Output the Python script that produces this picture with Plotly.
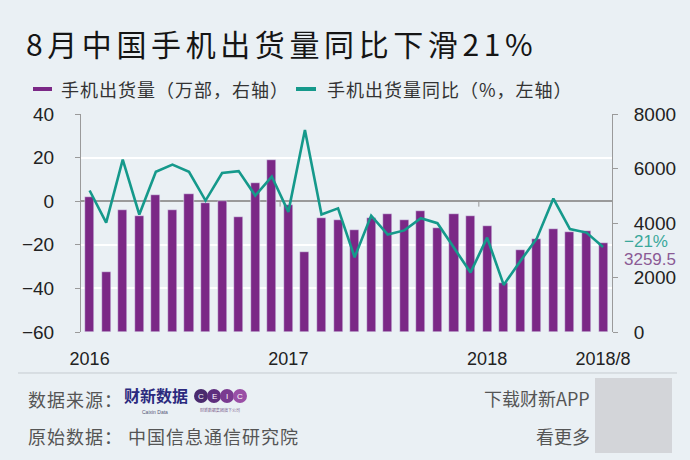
import plotly.graph_objects as go

# ---- data ----
months = list(range(32))  # Jan 2016 .. Aug 2018
tick_pos = [0, 12, 24, 31]
tick_text = ["2016", "2017", "2018", "2018/8"]
shipments = [4943, 2213, 4466, 4268, 5016, 4466, 5064, 4745, 4807, 4231, 5468, 6312,
             4649, 2936, 4183, 4098, 3743, 4183, 4318, 4110, 4428, 3829, 4318, 4269,
             3902, 1810, 3021, 3425, 3792, 3670, 3706, 3259.5]
yoy = [4.9, -9.8, 19.1, -6.1, 13.5, 16.8, 13.5, 0.3, 12.9, 13.8, 2.6, 11.3,
       -4.9, 32.7, -6.1, -3.3, -25.7, -6.6, -15.3, -13.4, -7.8, -10.1, -21.4, -32.7,
       -16.7, -38.4, -27.5, -17.1, 1.2, -12.8, -14.4, -21.0]

BG = "#EAF0F4"
PURPLE = "#7B2886"
TEAL = "#15998B"
W, H = 690, 460
L, R, T, B = 81, 78, 114, 128
PW, PH = W - L - R, H - T - B

def px(x):
    return (x - L) / PW

def py(y):
    return (H - B - y) / PH

CJK = "Noto Sans CJK SC, sans-serif"
NUM = "Liberation Sans, Arial, sans-serif"

def spaced(s, n):
    return '<span style="letter-spacing:%spx">%s</span>' % (n, s)

fig = go.Figure()
fig.add_trace(go.Bar(x=months, y=shipments, marker_color=PURPLE, width=0.55,
                     yaxis="y", name="手机出货量（万部，右轴）", showlegend=False))
fig.add_trace(go.Scatter(x=months, y=yoy, mode="lines", line=dict(color=TEAL, width=2.6),
                         yaxis="y2", name="手机出货量同比（%，左轴）", showlegend=False))

ann = []
shapes = []
# title
ann.append(dict(text=spaced("8月中国手机出货量同比下滑21%", 4.6), x=px(24), y=py(43), xref="paper", yref="paper",
                xanchor="left", yanchor="middle", showarrow=False,
                font=dict(family=CJK, size=30, color="#151515")))
# legend
shapes.append(dict(type="line", xref="paper", yref="paper", x0=px(33), x1=px(52), y0=py(89), y1=py(89),
                   line=dict(color=PURPLE, width=4)))
ann.append(dict(text=spaced("手机出货量（万部，右轴）", 1), x=px(59), y=py(89), xref="paper", yref="paper",
                xanchor="left", yanchor="middle", showarrow=False,
                font=dict(family=CJK, size=18, color="#333333")))
shapes.append(dict(type="line", xref="paper", yref="paper", x0=px(296), x1=px(316), y0=py(89), y1=py(89),
                   line=dict(color=TEAL, width=4)))
ann.append(dict(text=spaced("手机出货量同比（%，左轴）", 1), x=px(325), y=py(89), xref="paper", yref="paper",
                xanchor="left", yanchor="middle", showarrow=False,
                font=dict(family=CJK, size=18, color="#333333")))
# end-value labels
ann.append(dict(text="\u221221%", x=px(622), y=py(241), xref="paper", yref="paper",
                xanchor="left", yanchor="middle", showarrow=False,
                font=dict(family=NUM, size=17, color="#3AA89B")))
ann.append(dict(text="3259.5", x=px(622), y=py(259), xref="paper", yref="paper",
                xanchor="left", yanchor="middle", showarrow=False,
                font=dict(family=NUM, size=17, color="#8A5A95")))
# year boundary ticks on zero line
for xb in [11.5, 23.5]:
    shapes.append(dict(type="line", xref="x", yref="y2", x0=xb, x1=xb, y0=0, y1=-2.5,
                       line=dict(color="#999999", width=1)))
# footer
shapes.append(dict(type="line", xref="paper", yref="paper", x0=px(18), x1=px(677), y0=py(373), y1=py(373),
                   line=dict(color="#C5CBD0", width=1)))
ann.append(dict(text=spaced("数据来源：", 1), x=px(26), y=py(399), xref="paper", yref="paper",
                xanchor="left", yanchor="middle", showarrow=False,
                font=dict(family=CJK, size=18, color="#555555")))
ann.append(dict(text="<b>财新数据</b>", x=px(122), y=py(395), xref="paper", yref="paper",
                xanchor="left", yanchor="middle", showarrow=False,
                font=dict(family=CJK, size=16, color="#2B2A7E")))
ann.append(dict(text="Caixin Data", x=px(155), y=py(412), xref="paper", yref="paper",
                xanchor="center", yanchor="middle", showarrow=False,
                font=dict(family=NUM, size=5, color="#555577")))
for i, ch in enumerate("CEIC"):
    cx = 201 + i * 13
    shapes.append(dict(type="circle", xref="paper", yref="paper",
                       x0=px(cx - 7), x1=px(cx + 7), y0=py(403), y1=py(389),
                       fillcolor=["#4A2A6E", "#5E2E7E", "#7A3A90", "#9A4FA6"][i], line=dict(width=0)))
    ann.append(dict(text=ch, x=px(cx), y=py(396), xref="paper", yref="paper",
                    xanchor="center", yanchor="middle", showarrow=False,
                    font=dict(family=NUM, size=8, color="#FFFFFF")))
ann.append(dict(text="财新数据集团旗下公司", x=px(220), y=py(410), xref="paper", yref="paper",
                xanchor="center", yanchor="middle", showarrow=False,
                font=dict(family=CJK, size=4, color="#7A5A8A")))
ann.append(dict(text=spaced("原始数据： 中国信息通信研究院", 1), x=px(26), y=py(436), xref="paper", yref="paper",
                xanchor="left", yanchor="middle", showarrow=False,
                font=dict(family=CJK, size=18, color="#555555")))
ann.append(dict(text="下载财新APP", x=px(592), y=py(398), xref="paper", yref="paper",
                xanchor="right", yanchor="middle", showarrow=False,
                font=dict(family=CJK, size=18, color="#555555")))
ann.append(dict(text="看更多", x=px(592), y=py(436), xref="paper", yref="paper",
                xanchor="right", yanchor="middle", showarrow=False,
                font=dict(family=CJK, size=18, color="#555555")))
shapes.append(dict(type="rect", xref="paper", yref="paper", x0=px(595), x1=px(672), y0=py(453), y1=py(378),
                   fillcolor="#D3D5D9", line=dict(width=0)))

fig.update_layout(
    width=W, height=H, margin=dict(l=L, r=R, t=T, b=B, pad=0),
    paper_bgcolor=BG, plot_bgcolor=BG, bargap=0,
    xaxis=dict(range=[-0.52, 31.54], tickvals=tick_pos, ticktext=tick_text,
               ticks="outside", ticklen=10, tickcolor="rgba(0,0,0,0)", showgrid=False,
               zeroline=False, showline=False,
               tickfont=dict(family=NUM, size=18, color="#222222")),
    yaxis=dict(range=[0, 8000], tickvals=[0, 2000, 4000, 6000, 8000], side="right",
               showgrid=False, zeroline=False, showline=True, linecolor="#9A9A9A", linewidth=1,
               ticks="outside", ticklen=5, tickcolor="#9A9A9A", ticklabelstandoff=12,
               tickfont=dict(family=NUM, size=19, color="#222222")),
    yaxis2=dict(range=[-60, 40], tickvals=[-60, -40, -20, 0, 20, 40], side="left", overlaying="y",
                showgrid=True, gridcolor="#FFFFFF", gridwidth=2,
                zeroline=True, zerolinecolor="#9A9A9A", zerolinewidth=1.5,
                showline=True, linecolor="#9A9A9A", linewidth=1,
                ticks="outside", ticklen=5, tickcolor="#9A9A9A", ticklabelstandoff=17,
                tickfont=dict(family=NUM, size=19, color="#222222")),
    annotations=ann, shapes=shapes, showlegend=False,
)

fig.write_html("out.html")
